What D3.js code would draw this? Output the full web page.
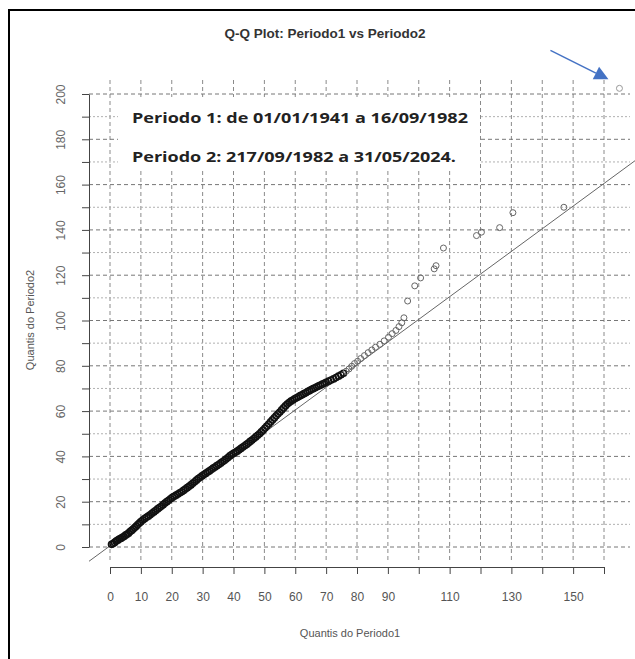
<!DOCTYPE html>
<html>
<head>
<meta charset="utf-8">
<script src="https://cdn.jsdelivr.net/npm/d3@7"></script>
<style>
  body { margin: 0; background: #fff; }
  svg { display: block; }
</style>
</head>
<body>
<div id="chart"></div>
<script>
// quantis (Periodo1 no eixo x, Periodo2 no eixo y)
var quantisP1 = [
  0.5, 1, 1.5, 2, 2.5, 3, 3.5, 4, 4.5, 5, 5.5, 6, 6.5, 7, 7.5, 8, 8.5, 9, 9.5, 10,
  10.6, 11.2, 11.8, 12.4, 13, 13.6, 14.2, 14.8, 15.4, 16, 16.6, 17.2, 17.8, 18.4, 19, 19.6,
  20.2, 20.8, 21.4, 22, 22.6, 23.2, 23.8, 24.4, 25, 25.6, 26.2, 26.8, 27.4, 28, 28.6, 29.2, 29.8,
  30.4, 31, 31.6, 32.2, 32.8, 33.4, 34, 34.6, 35.2, 35.8, 36.4, 37, 37.6, 38.2, 38.8, 39.4,
  40, 40.6, 41.2, 41.8, 42.4, 43, 43.6, 44.2, 44.8, 45.4, 46, 46.6, 47.2, 47.8, 48.4, 49, 49.6,
  50.2, 50.8, 51.4, 52, 52.6, 53.2, 53.8, 54.4, 55, 55.6, 56.2, 56.8, 57.4, 58, 58.6, 59.2, 59.8,
  60.4, 61, 61.6, 62.2, 62.8, 63.4, 64, 64.6, 65.2, 65.8, 66.4, 67, 67.6, 68.2, 68.8, 69.4,
  70, 70.8, 71.6, 72.4, 73.2, 74, 74.8, 75.6, 76.5, 77.4, 78.3, 79.2,
  80.2, 81.2, 82.4, 83.6, 84.8, 86, 87.4, 88.8, 90.2, 91.4, 92.6, 93.6, 94.5, 95.2,
  96.4, 98.7, 100.6, 105, 105.6, 108, 118.7, 120.3, 126.2, 130.5, 147
];
var quantisP2 = [
  1.2, 1.5, 2, 2.6, 3, 3.5, 3.8, 4.3, 4.6, 5.2, 5.6, 6.1, 6.8, 7.3, 7.9, 8.6, 9.2, 9.9, 10.6, 11.2,
  11.9, 12.5, 13.1, 13.6, 14.2, 14.9, 15.5, 16.1, 16.8, 17.4, 18, 18.7, 19.4, 20, 20.6, 21.3,
  21.9, 22.4, 22.9, 23.4, 23.9, 24.4, 25, 25.6, 26.2, 26.8, 27.4, 28.1, 28.8, 29.5, 30.2, 30.8, 31.4,
  32, 32.5, 33.1, 33.6, 34.2, 34.8, 35.3, 35.9, 36.4, 37, 37.6, 38.2, 38.8, 39.5, 40.2, 40.8,
  41.3, 41.8, 42.3, 42.9, 43.5, 44.1, 44.7, 45.3, 45.9, 46.6, 47.2, 47.9, 48.6, 49.3, 50, 50.8, 51.6,
  52.5, 53.4, 54.3, 55.2, 56.1, 57, 57.9, 58.8, 59.6, 60.5, 61.4, 62.3, 63.1, 63.8, 64.4, 64.9, 65.4,
  65.9, 66.3, 66.8, 67.2, 67.7, 68.1, 68.6, 69, 69.5, 69.9, 70.3, 70.7, 71.1, 71.5, 71.9, 72.3,
  72.7, 73.2, 73.7, 74.2, 74.8, 75.4, 76, 76.7, 77.6, 78.6, 79.8, 81,
  82, 83.2, 84.5, 85.8, 87, 88.2, 89.5, 91, 92.6, 94.2, 95.6, 97.3, 99, 101.2,
  108.6, 115.3, 118.8, 122.8, 124.2, 132, 137.5, 139, 141, 147.6, 150
];
// ponto destacado pela seta
var destaqueP1 = [165];
var destaqueP2 = [202.5];

var xTicks = d3.range(0, 161, 10);
var xTickLabels = [0, 10, 20, 30, 40, 50, 60, 70, 80, 90, 110, 130, 150];
var yTicks = d3.range(0, 201, 10);
var yTickLabels = [0, 20, 40, 60, 80, 100, 120, 140, 160, 180, 200];

// reta de referencia: intercepto e inclinacao
var linhaRef = [0.5, 1.0];

var textos = [
  "Periodo 1: de 01/01/1941 a 16/09/1982",
  "Periodo 2: 217/09/1982 a 31/05/2024."
];

var width = 635, height = 659;

var svg = d3.select("#chart").append("svg")
    .attr("width", width)
    .attr("height", height);

var x = d3.scaleLinear().domain([0, 160]).range([110, 604]);
var y = d3.scaleLinear().domain([0, 200]).range([547, 94]);

var plotLeft = 89, plotRight = 630, plotTop = 80, plotBottom = 562;

svg.append("defs").append("clipPath").attr("id", "clip")
  .append("rect")
    .attr("x", plotLeft).attr("y", plotTop)
    .attr("width", width - plotLeft).attr("height", plotBottom - plotTop);

// grade
var grid = svg.append("g");
grid.selectAll("line.v")
  .data(xTicks)
  .enter().append("line")
    .attr("class", "v")
    .attr("x1", function(d) { return x(d); })
    .attr("x2", function(d) { return x(d); })
    .attr("y1", plotTop)
    .attr("y2", plotBottom)
    .attr("stroke", "#8a8a8a")
    .attr("stroke-width", 1)
    .attr("stroke-dasharray", "4,3");

grid.selectAll("line.h")
  .data(yTicks)
  .enter().append("line")
    .attr("class", "h")
    .attr("x1", plotLeft)
    .attr("x2", plotRight)
    .attr("y1", function(d) { return y(d); })
    .attr("y2", function(d) { return y(d); })
    .attr("stroke", function(d) { return d % 20 === 0 ? "#777" : "#b0b0b0"; })
    .attr("stroke-width", 1)
    .attr("stroke-dasharray", function(d) { return d % 20 === 0 ? "4,3" : "2,2"; });

// caixa de texto
var caixa = svg.append("g");
caixa.append("rect")
    .attr("x", 118).attr("y", 97)
    .attr("width", 362).attr("height", 73)
    .attr("fill", "#fff");
caixa.selectAll("text")
  .data(textos)
  .enter().append("text")
    .attr("x", 132)
    .attr("y", function(d, i) { return 123 + i * 39; })
    .attr("font-family", "'Open Sans', 'DejaVu Sans', sans-serif")
    .attr("font-weight", "bold")
    .attr("font-size", 14)
    .attr("fill", "#222")
    .attr("textLength", function(d, i) { return i === 0 ? 336 : 324; })
    .attr("lengthAdjust", "spacingAndGlyphs")
    .text(function(d) { return d; });

// reta de referencia
var xs = [-10, 175];
svg.append("line")
    .attr("clip-path", "url(#clip)")
    .attr("x1", x(xs[0])).attr("y1", y(linhaRef[0] + linhaRef[1] * xs[0]))
    .attr("x2", x(xs[1])).attr("y2", y(linhaRef[0] + linhaRef[1] * xs[1]))
    .attr("stroke", "#666")
    .attr("stroke-width", 1);

// pontos
var pontos = quantisP1.map(function(d, i) { return [d, quantisP2[i]]; });
svg.append("g")
  .selectAll("circle")
  .data(pontos)
  .enter().append("circle")
    .attr("cx", function(d) { return x(d[0]); })
    .attr("cy", function(d) { return y(d[1]); })
    .attr("r", function(d) { return d[0] > 76 ? 3 : 3.1; })
    .attr("fill", "none")
    .attr("stroke", function(d) { return d[0] > 76 ? "#666" : "#111"; })
    .attr("stroke-width", function(d) { return d[0] > 76 ? 1 : 1.5; });

var destaque = destaqueP1.map(function(d, i) { return [d, destaqueP2[i]]; });
svg.append("g")
  .selectAll("circle")
  .data(destaque)
  .enter().append("circle")
    .attr("cx", function(d) { return x(d[0]); })
    .attr("cy", function(d) { return y(d[1]); })
    .attr("r", 3)
    .attr("fill", "none")
    .attr("stroke", "#999")
    .attr("stroke-width", 1);

// eixos
var labelSetX = new Set(xTickLabels);
var xAxis = d3.axisBottom(x)
    .tickValues(xTicks)
    .tickSize(7)
    .tickSizeOuter(0)
    .tickPadding(18)
    .tickFormat(function(d) { return labelSetX.has(d) ? d : ""; });

var gX = svg.append("g")
    .attr("transform", "translate(0,567)")
    .call(xAxis);
gX.select(".domain").attr("stroke", "#444");
gX.selectAll(".tick line").attr("stroke", "#444");
gX.selectAll(".tick text")
    .attr("font-family", "'Liberation Sans', Arial, sans-serif")
    .attr("font-size", 12)
    .attr("fill", "#555");

var labelSetY = new Set(yTickLabels);
var yAxis = d3.axisLeft(y)
    .tickValues(yTicks)
    .tickSize(7)
    .tickSizeOuter(0)
    .tickFormat(function(d) { return labelSetY.has(d) ? d : ""; });

var gY = svg.append("g")
    .attr("transform", "translate(" + plotLeft + ",0)")
    .call(yAxis);
gY.select(".domain").attr("stroke", "#444");
gY.selectAll(".tick line").attr("stroke", "#444");
gY.selectAll(".tick text")
    .attr("transform", "rotate(-90)")
    .attr("x", 0)
    .attr("y", -24)
    .attr("dy", null)
    .attr("text-anchor", "middle")
    .attr("font-family", "'Liberation Sans', Arial, sans-serif")
    .attr("font-size", 12)
    .attr("fill", "#666");

// titulos
svg.append("text")
    .attr("x", 325).attr("y", 38)
    .attr("text-anchor", "middle")
    .attr("font-family", "'Liberation Sans', Arial, sans-serif")
    .attr("font-weight", "bold")
    .attr("font-size", 13.5)
    .attr("fill", "#333")
    .text("Q-Q Plot: Periodo1 vs Periodo2");

svg.append("text")
    .attr("x", 350).attr("y", 637)
    .attr("text-anchor", "middle")
    .attr("font-family", "'Liberation Sans', Arial, sans-serif")
    .attr("font-size", 11)
    .attr("fill", "#555")
    .text("Quantis do Periodo1");

svg.append("text")
    .attr("transform", "translate(34,320) rotate(-90)")
    .attr("text-anchor", "middle")
    .attr("font-family", "'Liberation Sans', Arial, sans-serif")
    .attr("font-size", 11)
    .attr("fill", "#555")
    .text("Quantis do Periodo2");

// seta azul apontando para o ponto destacado
var alvo = [x(destaqueP1[0]) - 11, y(destaqueP2[0]) - 9];
var origem = [alvo[0] - 58, alvo[1] - 29];
var ang = Math.atan2(alvo[1] - origem[1], alvo[0] - origem[0]);
var base = [alvo[0] - 14 * Math.cos(ang), alvo[1] - 14 * Math.sin(ang)];
svg.append("line")
    .attr("x1", origem[0]).attr("y1", origem[1])
    .attr("x2", base[0]).attr("y2", base[1])
    .attr("stroke", "#4472C4")
    .attr("stroke-width", 1.5);
svg.append("path")
    .attr("d", d3.line()([
      alvo,
      [base[0] + 7 * Math.sin(ang), base[1] - 7 * Math.cos(ang)],
      [base[0] - 7 * Math.sin(ang), base[1] + 7 * Math.cos(ang)]
    ]) + "Z")
    .attr("fill", "#4472C4");

// moldura
svg.append("rect")
    .attr("x", 9).attr("y", 10)
    .attr("width", width + 10).attr("height", height + 10)
    .attr("fill", "none")
    .attr("stroke", "#000")
    .attr("stroke-width", 2);
</script>
</body>
</html>
